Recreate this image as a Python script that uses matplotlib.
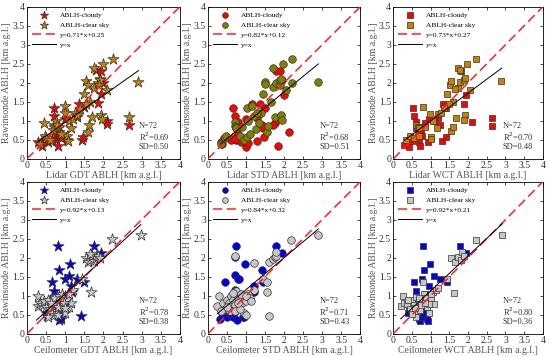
import matplotlib.pyplot as plt
import numpy as np

plt.rcParams['font.family'] = ['Liberation Serif', 'DejaVu Serif']

# ---- data (x = instrument ABLH, y = rawinsonde ABLH, km) ----
gdt_cloudy = [(0.3, 0.45), (0.4, 0.35), (0.5, 0.5), (0.7, 1.35), (0.72, 1.13), (0.75, 0.5),
              (0.75, 0.65), (0.8, 0.6), (0.82, 0.35), (0.85, 0.7), (1.0, 1.05), (1.05, 0.5),
              (1.3, 1.1), (1.35, 1.45), (1.45, 0.5), (1.47, 0.58), (1.5, 1.37), (1.8, 2.33),
              (1.85, 1.47), (1.95, 2.3), (1.95, 1.7), (2.0, 2.0), (2.1, 1.0), (2.1, 0.93),
              (2.68, 0.9), (0.55, 0.45), (0.9, 0.55), (0.65, 0.5)]
gdt_clear = [(0.35, 0.4), (0.45, 0.95), (0.48, 0.6), (0.5, 0.55), (0.7, 0.85), (0.72, 0.9),
             (0.75, 1.0), (0.8, 0.8), (0.85, 0.85), (1.0, 1.38), (1.0, 1.2), (1.05, 0.6),
             (1.08, 0.48), (1.15, 0.8), (1.25, 1.2), (1.5, 1.7), (1.55, 2.05), (1.6, 1.95),
             (1.6, 0.7), (1.62, 0.88), (1.65, 1.5), (1.7, 1.1), (1.75, 2.4), (1.75, 1.87),
             (1.85, 2.0), (1.9, 2.1), (1.92, 2.08), (1.95, 1.15), (1.97, 1.05), (2.0, 2.5),
             (2.1, 1.8), (2.25, 2.63), (2.9, 2.03), (2.68, 1.1), (0.9, 0.65), (0.6, 0.5),
             (1.1, 1.0), (1.2, 1.05), (1.4, 1.3), (1.88, 1.95), (0.78, 0.88), (1.3, 1.15),
             (0.68, 0.75), (1.55, 1.45)]

std_cloudy = [(0.35, 0.45), (0.38, 0.38), (0.42, 0.55), (0.65, 1.35), (0.7, 1.13), (0.72, 0.55),
              (0.75, 0.5), (0.78, 0.65), (0.8, 0.97), (0.95, 0.45), (1.0, 1.05), (1.0, 0.32),
              (1.05, 0.43), (1.17, 1.45), (1.3, 1.08), (1.3, 0.48), (1.38, 1.43), (1.42, 0.88),
              (1.45, 0.82), (1.48, 0.58), (1.5, 1.35), (1.75, 0.95), (1.72, 0.9), (1.78, 2.32),
              (1.85, 0.33), (1.9, 2.3), (1.95, 2.07), (2.0, 1.68), (2.12, 0.7), (0.6, 0.5),
              (0.88, 0.45), (0.7, 0.52)]
std_clear = [(0.35, 0.4), (0.45, 0.55), (0.48, 0.6), (0.7, 0.97), (0.72, 0.87), (0.75, 0.85),
             (0.85, 0.6), (0.95, 0.5), (1.02, 0.58), (1.02, 1.35), (1.05, 1.0), (1.17, 1.38),
             (1.2, 1.12), (1.25, 0.78), (1.4, 1.2), (1.45, 1.7), (1.5, 2.02), (1.5, 1.98),
             (1.55, 0.7), (1.58, 0.86), (1.65, 1.5), (1.72, 1.88), (1.72, 2.4), (1.75, 1.1),
             (1.8, 2.0), (1.88, 1.95), (1.9, 2.08), (1.92, 2.1), (1.92, 1.15), (1.95, 1.03),
             (1.98, 2.5), (2.05, 1.8), (2.22, 2.0), (2.22, 2.62), (2.9, 2.03), (0.9, 0.85),
             (1.1, 0.65), (1.35, 0.95), (0.75, 0.8), (1.3, 1.2)]

wct_cloudy = [(0.3, 0.37), (0.42, 0.3), (0.5, 0.47), (0.52, 1.35), (0.55, 1.12), (0.6, 0.55),
              (0.62, 0.98), (0.65, 0.65), (0.7, 0.45), (0.72, 0.33), (0.75, 0.68), (0.77, 0.6),
              (0.92, 0.45), (0.95, 1.05), (1.2, 1.08), (1.25, 0.9), (1.3, 0.48), (1.33, 1.44),
              (1.4, 1.35), (1.42, 0.57), (1.8, 2.3), (1.9, 1.44), (1.95, 1.68), (2.1, 0.98),
              (2.65, 1.08), (2.65, 0.87), (0.85, 0.95), (1.1, 1.0), (0.6, 0.8)]
wct_clear = [(0.35, 0.5), (0.45, 0.6), (0.62, 0.9), (0.65, 0.85), (0.72, 0.85), (0.8, 1.36),
             (0.85, 0.85), (0.97, 1.18), (1.0, 0.58), (1.02, 0.52), (1.17, 0.8), (1.2, 1.18),
             (1.45, 1.7), (1.52, 1.95), (1.55, 2.05), (1.55, 0.72), (1.6, 0.85), (1.6, 1.5),
             (1.68, 1.08), (1.72, 2.4), (1.73, 1.87), (1.78, 2.33), (1.78, 2.03), (1.9, 2.08),
             (1.92, 2.12), (1.92, 1.15), (1.9, 1.02), (1.98, 2.5), (2.05, 1.8), (2.22, 2.63),
             (2.88, 2.04), (1.5, 1.45), (1.65, 1.85), (0.55, 0.55), (1.35, 1.35), (0.7, 0.8),
             (1.05, 1.0), (1.28, 1.2), (0.68, 0.6)]

c_gdt_cloudy = [(0.5, 0.55), (0.52, 0.48), (0.6, 0.6), (0.65, 1.35), (0.7, 1.12), (0.75, 0.8),
                (0.8, 0.9), (0.82, 2.3), (0.83, 0.35), (0.85, 1.68), (0.88, 0.45), (0.9, 0.38),
                (0.92, 0.6), (0.95, 0.85), (1.0, 1.45), (1.05, 0.78), (1.1, 1.53), (1.12, 1.83),
                (1.15, 1.25), (1.18, 1.1), (1.3, 1.43), (1.42, 0.47), (1.5, 1.35), (1.75, 2.32),
                (1.95, 2.12), (0.7, 0.7), (0.85, 0.88), (1.0, 1.0), (0.6, 0.9), (0.88, 0.65)]
c_gdt_clear = [(0.3, 1.0), (0.3, 0.72), (0.35, 0.8), (0.4, 0.75), (0.45, 0.85), (0.5, 0.7),
               (0.55, 0.9), (0.6, 0.65), (0.65, 0.55), (0.7, 0.95), (0.72, 0.5), (0.75, 0.75),
               (0.78, 0.6), (0.8, 0.5), (0.85, 1.0), (0.9, 0.7), (0.92, 1.05), (0.95, 0.95),
               (1.0, 0.55), (1.05, 0.92), (1.1, 0.7), (1.15, 0.82), (1.2, 1.15), (1.45, 1.45),
               (1.55, 2.0), (1.6, 1.88), (1.65, 1.95), (1.68, 1.1), (1.7, 2.05), (1.75, 1.92),
               (1.8, 2.0), (1.85, 2.05), (1.9, 2.0), (2.22, 2.5), (2.98, 2.6), (0.55, 0.45),
               (0.98, 0.8), (1.1, 1.05), (1.65, 2.1), (0.62, 0.8), (0.8, 0.7), (1.0, 0.68)]

c_std_cloudy = [(0.32, 0.38), (0.38, 0.55), (0.45, 1.35), (0.45, 0.6), (0.5, 0.45), (0.55, 0.7),
                (0.6, 0.5), (0.62, 0.92), (0.65, 0.43), (0.68, 0.55), (0.7, 1.55), (0.72, 1.15),
                (0.72, 2.02), (0.75, 2.32), (0.76, 0.35), (0.78, 1.45), (0.8, 0.7), (0.82, 1.45),
                (0.9, 1.0), (0.92, 0.45), (0.95, 0.45), (0.98, 1.83), (1.2, 1.25), (1.2, 1.1),
                (1.42, 1.68), (1.45, 1.35), (1.8, 2.3), (1.95, 2.12), (0.6, 0.65), (0.55, 0.55)]
c_std_clear = [(0.25, 0.72), (0.3, 1.0), (0.4, 0.8), (0.45, 0.65), (0.5, 0.9), (0.55, 0.82),
               (0.58, 0.6), (0.6, 1.0), (0.65, 0.88), (0.7, 0.75), (0.72, 2.05), (0.75, 1.12),
               (0.8, 0.95), (0.85, 0.85), (0.88, 1.05), (0.9, 0.82), (0.95, 0.55), (1.0, 0.85),
               (1.05, 1.05), (1.1, 0.95), (1.2, 1.15), (1.22, 1.85), (1.45, 1.45), (1.55, 1.35),
               (1.55, 1.1), (1.6, 0.48), (1.6, 1.88), (1.7, 1.98), (1.75, 2.02), (1.78, 2.05),
               (1.8, 2.15), (2.18, 2.48), (2.9, 2.6), (0.7, 0.6), (1.0, 0.5), (0.35, 0.6),
               (0.65, 1.08), (0.85, 0.65), (1.0, 1.0), (0.5, 0.7), (0.78, 0.8), (1.12, 0.85)]

c_wct_cloudy = [(0.4, 0.55), (0.42, 0.6), (0.55, 1.35), (0.6, 0.5), (0.62, 1.13), (0.65, 0.92),
                (0.68, 0.38), (0.72, 0.33), (0.75, 0.45), (0.78, 1.45), (0.8, 2.3), (0.82, 1.68),
                (0.82, 0.5), (0.85, 0.85), (0.88, 0.9), (0.9, 0.4), (0.92, 0.33), (0.95, 1.25),
                (0.95, 1.0), (0.98, 1.83), (1.1, 1.53), (1.25, 1.43), (1.45, 1.35), (1.78, 2.32),
                (1.95, 2.12), (0.7, 0.7), (0.6, 0.8), (0.85, 1.05), (0.78, 0.55), (0.88, 0.62)]
c_wct_clear = [(0.2, 0.72), (0.25, 1.0), (0.3, 0.8), (0.38, 0.78), (0.45, 0.65), (0.5, 0.88),
               (0.55, 0.75), (0.6, 0.45), (0.62, 0.98), (0.65, 0.6), (0.7, 0.85), (0.72, 0.62),
               (0.75, 0.75), (0.8, 1.35), (0.82, 1.05), (0.88, 0.95), (0.9, 0.7), (0.95, 0.55),
               (1.0, 0.9), (1.05, 1.1), (1.1, 0.78), (1.15, 1.15), (1.45, 1.45), (1.55, 2.0),
               (1.62, 1.08), (1.65, 1.88), (1.72, 2.02), (1.8, 1.95), (1.85, 2.15), (1.9, 2.05),
               (2.22, 2.48), (2.92, 2.6), (0.5, 0.52), (0.95, 0.78), (1.2, 1.2), (0.4, 0.9),
               (0.68, 0.95), (1.0, 1.05), (0.58, 0.68), (0.85, 0.82)]

# regression fits (slope, intercept), fit x-range, stats
xlabels = ['Lidar GDT ABLH [km a.g.l.]', 'Lidar STD ABLH [km a.g.l.]', 'Lidar WCT ABLH [km a.g.l.]',
           'Ceilometer GDT ABLH [km a.g.l.]', 'Ceilometer STD ABLH [km a.g.l.]',
           'Ceilometer WCT ABLH [km a.g.l.]']
slopes = [0.71, 0.82, 0.73, 0.92, 0.84, 0.92]
intercepts = [0.25, 0.12, 0.27, 0.13, 0.32, 0.21]
fit_ranges = [(0.3, 2.92), (0.33, 2.9), (0.3, 2.9), (0.25, 2.98), (0.25, 2.9), (0.2, 2.92)]
r2 = ['0.69', '0.68', '0.70', '0.78', '0.71', '0.80']
sd = ['0.50', '0.51', '0.48', '0.38', '0.43', '0.36']

cloudy_sets = [gdt_cloudy, std_cloudy, wct_cloudy, c_gdt_cloudy, c_std_cloudy, c_wct_cloudy]
clear_sets = [gdt_clear, std_clear, wct_clear, c_gdt_clear, c_std_clear, c_wct_clear]
markers = ['*', 'o', 's', '*', 'o', 's']
msizes = [70, 30, 24, 70, 30, 24]
cloudy_col = ['#ff0000', '#ff0000', '#ff0000', '#0000e6', '#0000e6', '#0000e6']
clear_col = ['#c88000', '#808000', '#c88000', '#c8c8c8', '#c8c8c8', '#c8c8c8']

# axes boxes in figure fraction [left, bottom, width, height]
lefts = [0.049, 0.378, 0.715]
widths = [0.278, 0.277, 0.272]
bottoms = [0.555, 0.065]
height = 0.426

fig = plt.figure(figsize=(5.5, 3.57), dpi=100)
ticks = np.arange(0, 4.01, 0.5)
ticklabs = ['0', '0.5', '1', '1.5', '2', '2.5', '3', '3.5', '4']

for i in range(6):
    row, col = divmod(i, 3)
    ax = fig.add_axes([lefts[col], bottoms[row], widths[col], height])
    cl = np.array(cloudy_sets[i])
    cs = np.array(clear_sets[i])
    h1 = ax.scatter(cl[:, 0], cl[:, 1], marker=markers[i], s=msizes[i], c=cloudy_col[i],
                    edgecolors='#333333', linewidths=0.5, zorder=3)
    h2 = ax.scatter(cs[:, 0], cs[:, 1], marker=markers[i], s=msizes[i], c=clear_col[i],
                    edgecolors='#333333', linewidths=0.5, zorder=3)
    # 1:1 line (dashed red) and fit line (solid black)
    h3, = ax.plot([0, 4], [0, 4], color='#ff2020', ls=(0, (6, 3)), lw=1.1, zorder=4)
    xf = np.array(fit_ranges[i])
    h4, = ax.plot(xf, slopes[i] * xf + intercepts[i], color='black', lw=0.7, zorder=4)

    ax.set_xlim(0, 4)
    ax.set_ylim(0, 4)
    ax.set_xticks(ticks)
    ax.set_yticks(ticks)
    ax.set_xticklabels(ticklabs)
    ax.set_yticklabels(ticklabs)
    ax.tick_params(direction='in', length=2, width=0.5, labelsize=7, pad=1.5,
                   top=True, right=True, labelcolor='#333333')
    for sp in ax.spines.values():
        sp.set_linewidth(0.6)
    ax.set_xlabel(xlabels[i], fontsize=7, labelpad=1, color='#555555')
    ax.set_ylabel('Rawinsonde ABLH [km a.g.l.]', fontsize=7, labelpad=1, color='#555555')

    ax.legend([h1, h2, h3, h4],
              ['ABLH-cloudy', 'ABLH-clear sky',
               'y=%.2f*x+%.2f' % (slopes[i], intercepts[i]), 'y=x'],
              loc='upper left', frameon=False, fontsize=5.3, handlelength=3.2,
              borderaxespad=0.3, labelspacing=0.5, handletextpad=0.6, markerscale=0.75)

    ax.text(2.93, 0.87, 'N=72', fontsize=6, color='#333333', va='center')
    ax.text(2.93, 0.58, 'R$^2$=' + r2[i], fontsize=6, color='#333333', va='center')
    ax.text(2.93, 0.30, 'SD=' + sd[i], fontsize=6, color='#333333', va='center')

fig.savefig('out.png', dpi=100)
